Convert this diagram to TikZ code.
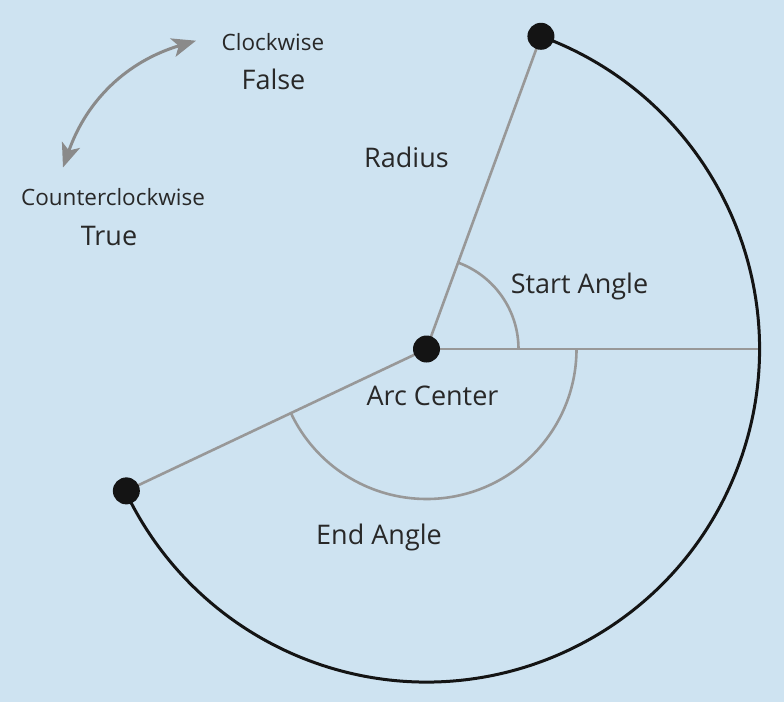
\documentclass[tikz,border=0pt]{standalone}
\usepackage{fontspec}
\setmainfont{Open Sans}
\usetikzlibrary{arrows.meta,positioning,calc}
\definecolor{bgblue}{RGB}{206,227,241}
\definecolor{linegray}{RGB}{152,152,152}
\definecolor{arrowgray}{RGB}{138,138,138}
\definecolor{textgray}{RGB}{40,40,40}
\tikzset{>={Stealth[length=24pt,width=19pt,inset=6pt]}}
\tikzset{
  dot/.style={circle,fill=black!92,inner sep=0pt,minimum size=27pt},
  biglabel/.style={anchor=base,text=textgray,font=\fontsize{27}{32}\selectfont},
  smalllabel/.style={anchor=base,text=textgray,font=\fontsize{22.5}{27}\selectfont},
  grayline/.style={draw=linegray,line width=2.6pt},
  arcline/.style={draw=black!92,line width=3pt}
}

\begin{document}
\begin{tikzpicture}[x=1pt,y=1pt]

\fill[bgblue] (-426.5,-353) rectangle (357.5,349);
\useasboundingbox (-426.5,-353) rectangle (357.5,349);

\coordinate (ca) at (0,0);
\coordinate (rx) at (0:334);
\coordinate (sp) at (69.9:333);
\coordinate (ep) at (205.3:332);

% labels
\node [smalllabel] (cw) at (-153.5,298) {Clockwise};
\node [biglabel] (cwval) at (-153,259) {False};
\node [smalllabel] (ccw) at (-313.5,144) {Counterclockwise};
\node [biglabel] (ccwval) at (-317.5,104) {True};
\node [biglabel] (rad) at (-20,182) {Radius};
\node [biglabel] (sa) at (153,56) {Start Angle};
\node [biglabel] (ac) at (6,-56) {Arc Center};
\node [biglabel] (ea) at (-47.5,-195) {End Angle};

% direction arrow
\coordinate (ccwtip) at (-363.5,181.5);
\coordinate (cwtip) at (-230.5,308.3);
\draw[<->,draw=arrowgray,line width=3pt] (ccwtip) to[bend left=27] (cwtip);

\begin{scope}[grayline]
\draw (ca) -- (sp);
\draw (ca) -- (ep);
\draw (ca) -- (rx);
\draw (0:92) arc[start angle=0,end angle=69.9,radius=92pt];
\draw (0:150) arc[start angle=0,end angle=-154.7,radius=150pt];
\end{scope}

\draw[arcline] (sp) arc[start angle=69.9,end angle=-154.7,radius=333pt];

\node [dot] (st) at (sp) {};
\node [dot] (en) at (ep) {};
\node [dot] (cen) at (ca) {};

\end{tikzpicture}
\end{document}
